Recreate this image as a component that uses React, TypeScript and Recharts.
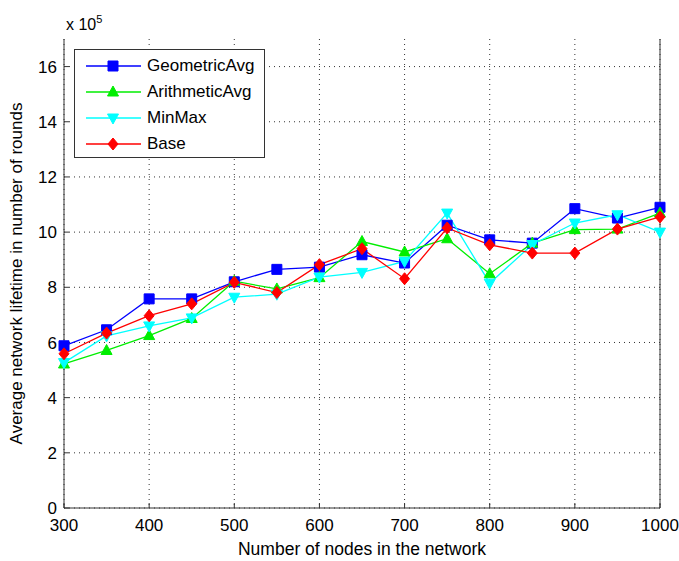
import React from "react";
import {
  LineChart,
  Line,
  XAxis,
  YAxis,
  CartesianGrid,
  Legend,
} from "recharts";

// network size (number of nodes)
const nodes = [300, 350, 400, 450, 500, 550, 600, 650, 700, 750, 800, 850, 900, 950, 1000];

// average lifetime in units of 1e5 rounds
const geometricAvg = [5.88, 6.46, 7.58, 7.58, 8.2, 8.65, 8.73, 9.18, 8.88, 10.25, 9.72, 9.6, 10.85, 10.51, 10.9];
const arithmeticAvg = [5.22, 5.71, 6.25, 6.87, 8.22, 7.94, 8.35, 9.66, 9.28, 9.76, 8.49, 9.6, 10.09, 10.11, 10.69];
const minMax = [5.27, 6.24, 6.6, 6.89, 7.64, 7.75, 8.37, 8.54, 8.94, 10.69, 8.15, 9.55, 10.33, 10.63, 10.0];
const base = [5.59, 6.34, 6.97, 7.4, 8.18, 7.81, 8.82, 9.4, 8.31, 10.15, 9.54, 9.24, 9.24, 10.11, 10.55];

const xTicks = [300, 400, 500, 600, 700, 800, 900, 1000];
const yTicks = [0, 2, 4, 6, 8, 10, 12, 14, 16];

const SCALE = 1e5;

const data = nodes.map((n, i) => ({
  nodes: n,
  GeometricAvg: geometricAvg[i] * SCALE,
  ArithmeticAvg: arithmeticAvg[i] * SCALE,
  MinMax: minMax[i] * SCALE,
  Base: base[i] * SCALE,
}));

type Shape = "square" | "up" | "down" | "diamond";

const series: { key: string; color: string; shape: Shape }[] = [
  { key: "GeometricAvg", color: "#0000ff", shape: "square" },
  { key: "ArithmeticAvg", color: "#00ee00", shape: "up" },
  { key: "MinMax", color: "#00ffff", shape: "down" },
  { key: "Base", color: "#ff0000", shape: "diamond" },
];

const FONT = "'Liberation Sans', Arial, Helvetica, sans-serif";

function markerPath(shape: Shape, cx: number, cy: number) {
  switch (shape) {
    case "square":
      return `M${cx - 5},${cy - 5}h10v10h-10z`;
    case "up":
      return `M${cx},${cy - 6}L${cx + 5.5},${cy + 4}L${cx - 5.5},${cy + 4}z`;
    case "down":
      return `M${cx},${cy + 6}L${cx + 5.5},${cy - 4}L${cx - 5.5},${cy - 4}z`;
    default:
      return `M${cx},${cy - 6}L${cx + 5},${cy}L${cx},${cy + 6}L${cx - 5},${cy}z`;
  }
}

function makeDot(shape: Shape, color: string) {
  return (props: any) => {
    const { cx, cy, index } = props;
    if (cx == null || cy == null) return <g key={index} />;
    return <path key={index} d={markerPath(shape, cx, cy)} fill={color} stroke={color} strokeWidth={1} />;
  };
}

function LegendBox() {
  return (
    <div
      style={{
        width: 189,
        height: 107,
        border: "1px solid #333",
        background: "#fff",
        fontFamily: FONT,
        fontSize: 17,
        position: "relative",
      }}
    >
      {series.map((s, i) => (
        <div
          key={s.key}
          style={{ position: "absolute", left: 10, top: 4 + i * 26, height: 24, display: "flex", alignItems: "center" }}
        >
          <svg width={58} height={24}>
            <line x1={1} y1={12} x2={56} y2={12} stroke={s.color} strokeWidth={1.5} />
            <path d={markerPath(s.shape, 28, 12)} fill={s.color} stroke={s.color} />
          </svg>
          <span style={{ marginLeft: 4, color: "#000" }}>{s.key}</span>
        </div>
      ))}
    </div>
  );
}

export default function App() {
  const tickStyle = { fontSize: 17, fill: "#000", fontFamily: FONT };
  return (
    <div style={{ position: "absolute", left: 0, top: 0, width: 679, height: 561, background: "#fff" }}>
      <LineChart
        width={679}
        height={561}
        data={data}
        margin={{ top: 39, right: 0, bottom: 0, left: 0 }}
        style={{ fontFamily: FONT }}
      >
        <CartesianGrid
          stroke="#333"
          strokeDasharray="1 4"
          verticalValues={xTicks}
          horizontalValues={yTicks.map((v) => v * SCALE)}
        />
        <XAxis
          dataKey="nodes"
          type="number"
          domain={[300, 1000]}
          ticks={xTicks}
          height={53}
          tickSize={-5}
          tickMargin={16}
          tick={tickStyle}
          stroke="#333"
          label={{
            value: "Number of nodes in the network",
            position: "insideBottom",
            offset: 6,
            style: { fontSize: 17.5, fill: "#000", fontFamily: FONT },
          }}
        />
        <XAxis
          xAxisId="top"
          orientation="top"
          dataKey="nodes"
          type="number"
          domain={[300, 1000]}
          ticks={xTicks}
          height={0}
          tickSize={-5}
          tickFormatter={() => ""}
          stroke="#333"
        />
        <YAxis
          type="number"
          domain={[0, 17 * SCALE]}
          ticks={yTicks.map((v) => v * SCALE)}
          tickFormatter={(v: number) => String(Math.round(v / SCALE))}
          width={64}
          tickSize={-5}
          tickMargin={12}
          tick={tickStyle}
          stroke="#333"
          label={{
            value: "Average network lifetime in number of rounds",
            angle: -90,
            position: "insideLeft",
            offset: 16,
            style: { textAnchor: "middle", fontSize: 17, fill: "#000", fontFamily: FONT },
          }}
        />
        <YAxis
          yAxisId="right"
          orientation="right"
          type="number"
          domain={[0, 17 * SCALE]}
          ticks={yTicks.map((v) => v * SCALE)}
          width={19}
          tickSize={-5}
          tickFormatter={() => ""}
          stroke="#333"
        />
        <Legend
          layout="horizontal"
          verticalAlign="middle"
          align="center"
          content={() => <LegendBox />}
          wrapperStyle={{ left: 74, top: 49, width: "auto", height: "auto" }}
        />
        {series.map((s) => (
          <Line
            key={s.key}
            dataKey={s.key}
            stroke={s.color}
            strokeWidth={1.3}
            type="linear"
            dot={makeDot(s.shape, s.color)}
            activeDot={false}
            isAnimationActive={false}
          />
        ))}
        <text x={66} y={30} fontSize={16} fontFamily={FONT} fill="#000">
          x 10
          <tspan dy={-7} fontSize={11}>5</tspan>
        </text>
      </LineChart>
    </div>
  );
}
